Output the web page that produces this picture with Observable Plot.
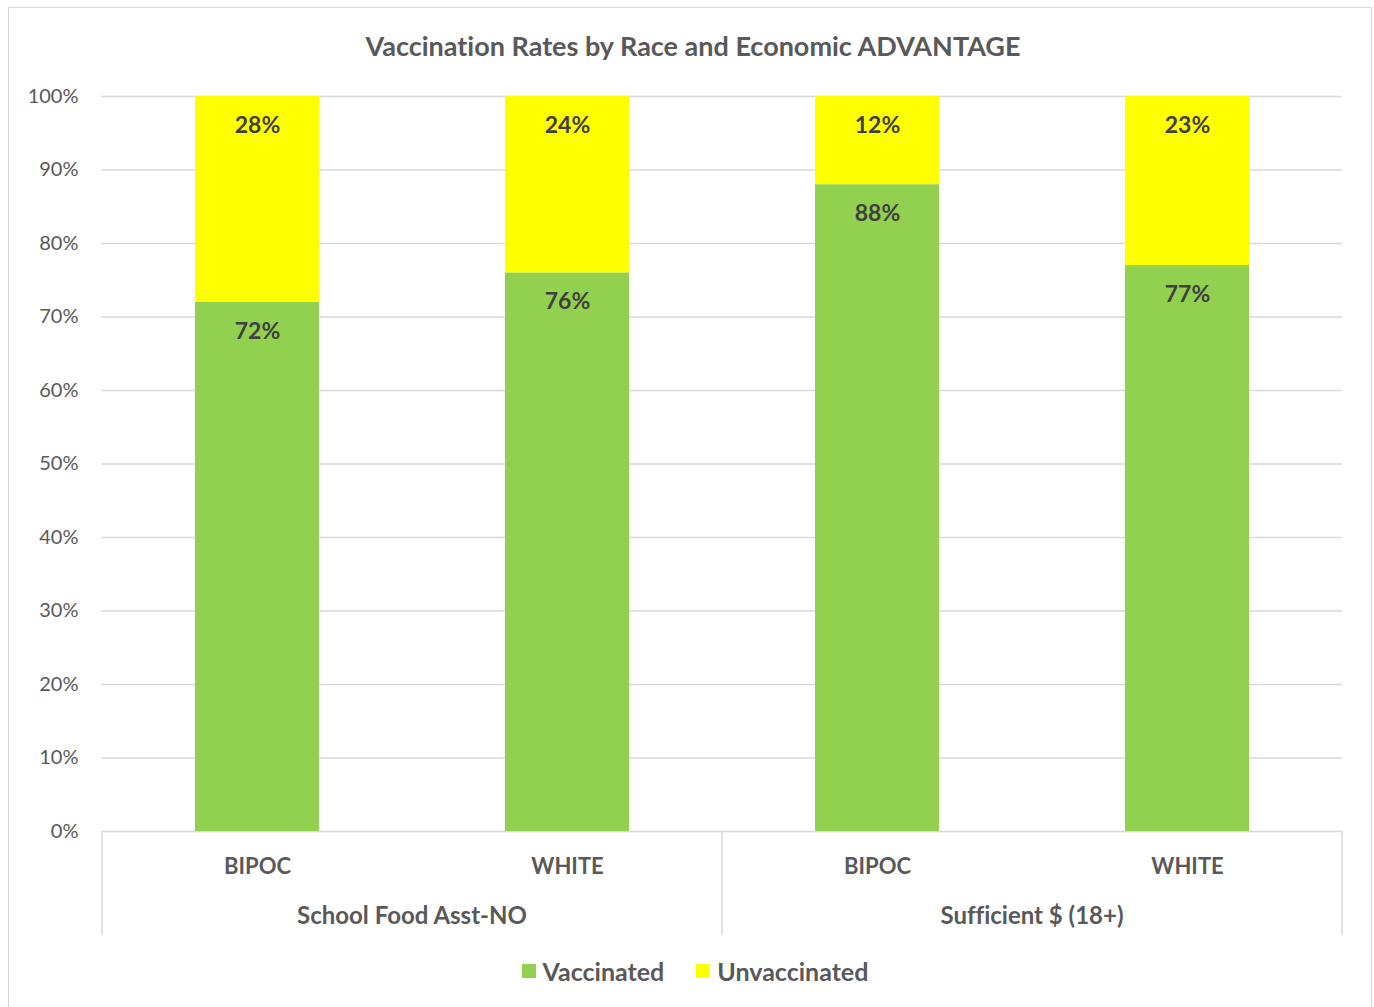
<!DOCTYPE html>
<html>
<head>
<meta charset="utf-8">
<script src="https://cdn.jsdelivr.net/npm/d3@7"></script>
<script src="https://cdn.jsdelivr.net/npm/@observablehq/plot@0.6"></script>
<style>
  html, body { margin: 0; padding: 0; background: #fff; }
  body { width: 1374px; height: 1007px; position: relative; overflow: hidden; font-family: Lato, "Open Sans", sans-serif; font-variant-ligatures: none; }
  svg text { font-variant-ligatures: none; }
  #frame { position: absolute; left: 8px; top: 7px; width: 1364px; height: 1020px; border: 1px solid #d9d9d9; box-sizing: border-box; }
  #title { position: absolute; left: 0; width: 1386px; top: 29px; height: 34px; line-height: 34px; text-align: center; font-weight: bold; font-size: 27px; color: #595959; }
  #chart { position: absolute; left: 0; top: 60px; }
  #legend { position: absolute; left: 0; width: 1390px; top: 955px; height: 32px; line-height: 32px; display: flex; justify-content: center; align-items: center; gap: 32px; font-weight: bold; font-size: 25px; color: #595959; }
  .item { display: flex; align-items: center; gap: 7px; }
  .sw { width: 14px; height: 14px; display: inline-block; }
</style>
</head>
<body>
<div id="frame"></div>
<div id="title">Vaccination Rates by Race and Economic ADVANTAGE</div>
<div id="chart"></div>
<div id="legend"></div>
<script>
const groups = ["School Food Asst-NO", "Sufficient $ (18+)"];
const races = ["BIPOC", "WHITE"];
const seriesNames = ["Vaccinated", "Unvaccinated"];
const seriesColors = ["#92D050", "#FFFF00"];
const vaccinated = [72, 76, 88, 77];
const unvaccinated = [28, 24, 12, 23];
const yTicks = [0, 10, 20, 30, 40, 50, 60, 70, 80, 90, 100];

const cats = [];
groups.forEach(g => races.forEach(r => cats.push({key: g + "|" + r, group: g, race: r})));
const keys = cats.map(c => c.key);

const data = [];
cats.forEach((c, i) => {
  data.push({key: c.key, status: seriesNames[0], value: vaccinated[i]});
  data.push({key: c.key, status: seriesNames[1], value: unvaccinated[i]});
});

const chart = Plot.plot({
  width: 1374,
  height: 885,
  marginLeft: 101,
  marginRight: 32,
  marginTop: 36,
  marginBottom: 114,
  style: {fontFamily: "Lato, 'Open Sans', sans-serif", background: "transparent", overflow: "visible"},
  x: {domain: keys, paddingInner: 0.6, paddingOuter: 0.3, axis: null},
  y: {domain: [0, 100], axis: null},
  color: {domain: seriesNames, range: seriesColors},
  marks: [
    Plot.ruleY(yTicks, {y: d => d, stroke: "#d9d9d9", strokeWidth: 1.5}),
    Plot.barY(data, {x: "key", y: "value", z: "status", fill: "status", order: seriesNames}),
    Plot.text(data, Plot.stackY2({x: "key", y: "value", z: "status", order: seriesNames,
      text: d => d.value + "%", dy: 29, fontSize: 23, fontWeight: "bold", fill: "#404040"})),
    Plot.text(yTicks, {y: d => d, text: d => d + "%", frameAnchor: "left", dx: -23, textAnchor: "end",
      fontSize: 20, fill: "#595959"}),
    Plot.text(cats, {x: "key", text: "race", frameAnchor: "bottom", dy: 42, fontSize: 22,
      fontWeight: "bold", fill: "#595959"})
  ]
});

// group labels and separators derived from the x scale
const sx = chart.scale("x");
const bw = sx.bandwidth, step = sx.step;
const yBottom = 885 - 114;
const svg = d3.select(chart);
const seps = [];
groups.forEach((g, gi) => {
  const gk = cats.filter(c => c.group === g).map(c => c.key);
  const x0 = sx.apply(gk[0]);
  const x1 = sx.apply(gk[gk.length - 1]) + bw;
  const outer = (step - bw) / 2;
  seps.push(x0 - outer, x1 + outer);
  svg.append("text")
    .attr("x", (x0 + x1) / 2)
    .attr("y", yBottom + 85)
    .attr("dy", "0.35em")
    .attr("text-anchor", "middle")
    .attr("font-size", 24)
    .attr("font-weight", "bold")
    .attr("fill", "#595959")
    .text(g);
});
[...new Set(seps.map(v => Math.round(v)))].forEach(x => {
  svg.append("line")
    .attr("x1", x).attr("x2", x)
    .attr("y1", yBottom).attr("y2", yBottom + 104)
    .attr("stroke", "#d9d9d9").attr("stroke-width", 1.5);
});

document.getElementById("chart").appendChild(chart);

const legend = d3.select("#legend");
seriesNames.forEach((s, i) => {
  const it = legend.append("div").attr("class", "item");
  it.append("span").attr("class", "sw").style("background", seriesColors[i]);
  it.append("span").text(s);
});
</script>
</body>
</html>
